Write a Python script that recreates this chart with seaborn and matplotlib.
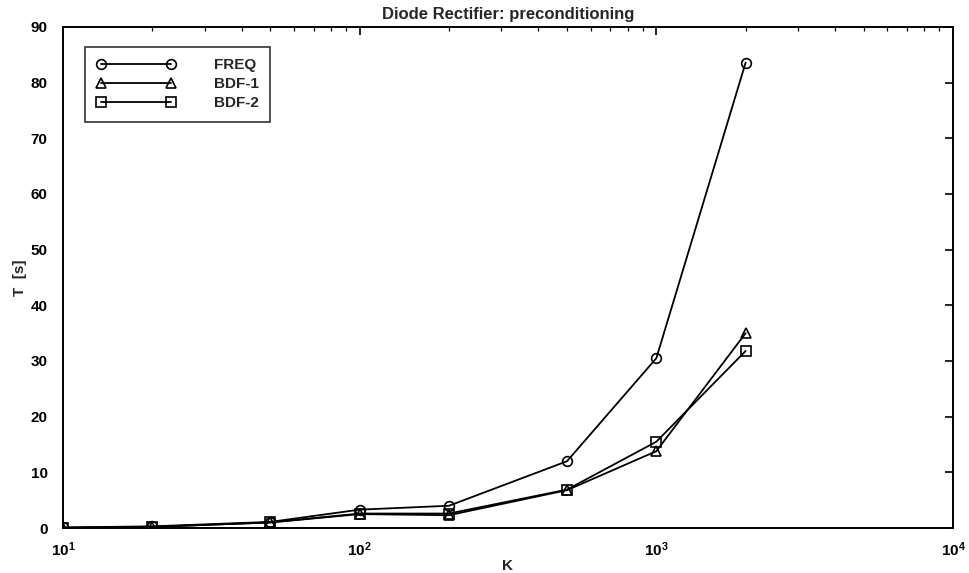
import matplotlib
matplotlib.use("Agg")
import matplotlib.pyplot as plt
from matplotlib.ticker import LogLocator, NullFormatter, FixedLocator
from matplotlib.lines import Line2D
import seaborn as sns
import pandas as pd

K = [10, 20, 50, 100, 200, 500, 1000, 2000]
freq = [0.1, 0.3, 1.1, 3.3, 4.0, 12.0, 30.5, 83.6]
bdf1 = [0.05, 0.2, 1.0, 2.5, 2.3, 6.8, 13.8, 35.0]
bdf2 = [0.05, 0.2, 1.0, 2.6, 2.6, 6.9, 15.5, 31.8]
methods = ["FREQ", "BDF-1", "BDF-2"]
title = "Diode Rectifier: preconditioning"

df = pd.DataFrame({
    "K": K * 3,
    "T": freq + bdf1 + bdf2,
    "method": [m for m in methods for _ in K],
})

sns.set_theme(style="white")
plt.rcParams["font.family"] = ["Liberation Sans", "DejaVu Sans"]
plt.rcParams["mathtext.fontset"] = "custom"
plt.rcParams["mathtext.rm"] = "Liberation Sans:bold"

fig = plt.figure(figsize=(9.69, 5.73), dpi=100)
ax = fig.add_axes([0.065, 0.0785, 0.9185, 0.8745])

sns.lineplot(
    data=df, x="K", y="T", style="method", style_order=methods,
    markers={"FREQ": "o", "BDF-1": "^", "BDF-2": "s"},
    dashes=False, color="black", linewidth=1.3, markersize=7,
    markerfacecolor="none", markeredgecolor="black", markeredgewidth=1.2,
    ax=ax, legend=False,
)

# legend with markers at both ends of the line sample
handles = [
    Line2D([0], [0], color="black", lw=1.3, marker=mk, markersize=7,
           markerfacecolor="none", markeredgecolor="black", markeredgewidth=1.2)
    for mk in ["o", "^", "s"]
]
leg = ax.legend(handles, methods, loc="upper left", numpoints=2,
                handlelength=5.2, handletextpad=2.5,
                prop={"size": 11, "weight": "bold"},
                frameon=True, fancybox=False, edgecolor="black",
                borderpad=0.75, labelspacing=0.32, borderaxespad=0,
                bbox_to_anchor=(0.0247, 0.960))
leg.get_frame().set_linewidth(1.2)

ax.set_xscale("log")
ax.set_xlim(10, 1e4)
ax.set_ylim(0, 90)
ax.yaxis.set_major_locator(FixedLocator(range(0, 91, 10)))
ax.xaxis.set_major_locator(LogLocator(base=10, numticks=10))
ax.xaxis.set_minor_locator(LogLocator(base=10, subs=range(2, 10), numticks=20))
ax.xaxis.set_minor_formatter(NullFormatter())

for s in ax.spines.values():
    s.set_color("black")
    s.set_linewidth(1.4)
ax.tick_params(axis="both", which="both", direction="in", top=True, right=True,
               colors="black", labelsize=11)
ax.tick_params(which="major", length=6, width=1.2)
ax.tick_params(which="minor", length=3, width=0.9)
ax.tick_params(axis="x", pad=9)
ax.tick_params(axis="y", pad=11)
for lbl in ax.get_yticklabels() + ax.get_xticklabels():
    lbl.set_fontweight("bold")

ax.set_xlabel("K", fontsize=11, fontweight="bold", labelpad=0)
ax.set_ylabel("T  [s]", fontsize=11, fontweight="bold")
ax.yaxis.set_label_coords(-0.040, 0.5)
ax.set_title(title, fontsize=12, fontweight="bold", pad=6)
ax.grid(False)

fig.savefig("out.png", dpi=100, facecolor="white")
